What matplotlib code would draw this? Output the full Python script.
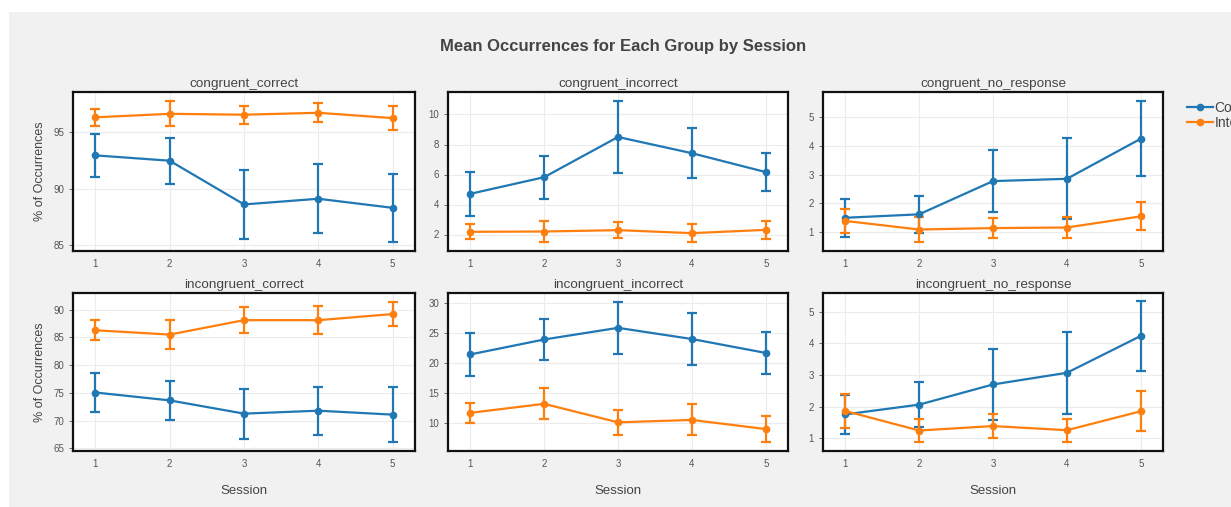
import matplotlib
matplotlib.use("Agg")
import matplotlib.pyplot as plt
from matplotlib.patches import Rectangle

plt.rcParams["font.family"] = ["Liberation Sans", "DejaVu Sans"]

sessions = [1, 2, 3, 4, 5]
groups = ["Control", "Intervention"]
colors = ["#1f77b4", "#ff7f0e"]
measures = [
    "congruent_correct", "congruent_incorrect", "congruent_no_response",
    "incongruent_correct", "incongruent_incorrect", "incongruent_no_response",
]

# group means per session, one list per measure
control_mean = {
    "congruent_correct": [92.92, 92.45, 88.6, 89.1, 88.3],
    "congruent_incorrect": [4.71, 5.82, 8.5, 7.42, 6.16],
    "congruent_no_response": [1.49, 1.61, 2.77, 2.85, 4.25],
    "incongruent_correct": [75.05, 73.63, 71.24, 71.77, 71.06],
    "incongruent_incorrect": [21.37, 23.86, 25.8, 23.94, 21.62],
    "incongruent_no_response": [1.75, 2.06, 2.70, 3.07, 4.24],
}
control_err = {
    "congruent_correct": [1.87, 2.03, 3.0, 3.05, 2.99],
    "congruent_incorrect": [1.47, 1.43, 2.37, 1.68, 1.28],
    "congruent_no_response": [0.67, 0.65, 1.08, 1.42, 1.30],
    "incongruent_correct": [3.45, 3.48, 4.5, 4.3, 4.9],
    "incongruent_incorrect": [3.64, 3.36, 4.36, 4.39, 3.53],
    "incongruent_no_response": [0.63, 0.72, 1.12, 1.30, 1.10],
}
intervention_mean = {
    "congruent_correct": [96.27, 96.58, 96.5, 96.67, 96.2],
    "congruent_incorrect": [2.18, 2.2, 2.29, 2.09, 2.31],
    "congruent_no_response": [1.38, 1.08, 1.13, 1.15, 1.54],
    "incongruent_correct": [86.28, 85.5, 88.1, 88.1, 89.2],
    "incongruent_incorrect": [11.65, 13.15, 10.07, 10.47, 8.95],
    "incongruent_no_response": [1.86, 1.24, 1.38, 1.25, 1.85],
}
intervention_err = {
    "congruent_correct": [0.75, 1.1, 0.8, 0.85, 1.05],
    "congruent_incorrect": [0.49, 0.69, 0.52, 0.59, 0.59],
    "congruent_no_response": [0.43, 0.45, 0.35, 0.38, 0.49],
    "incongruent_correct": [1.8, 2.63, 2.3, 2.5, 2.2],
    "incongruent_incorrect": [1.7, 2.6, 2.08, 2.58, 2.17],
    "incongruent_no_response": [0.53, 0.35, 0.37, 0.37, 0.63],
}
y_limits = {
    "congruent_correct": (84.5, 98.5),
    "congruent_incorrect": (0.9, 11.5),
    "congruent_no_response": (0.33, 5.88),
    "incongruent_correct": (64.5, 93.0),
    "incongruent_incorrect": (5.3, 31.6),
    "incongruent_no_response": (0.59, 5.6),
}
y_ticks = {
    "congruent_correct": [85, 90, 95],
    "congruent_incorrect": [2, 4, 6, 8, 10],
    "congruent_no_response": [1, 2, 3, 4, 5],
    "incongruent_correct": [65, 70, 75, 80, 85, 90],
    "incongruent_incorrect": [10, 15, 20, 25, 30],
    "incongruent_no_response": [1, 2, 3, 4, 5],
}

W, H = 1231, 507
fig = plt.figure(figsize=(W / 100, H / 100), dpi=100, facecolor="white")
fig.patches.append(Rectangle((9 / W, 0), 1, 1 - 12 / H, transform=fig.transFigure,
                             facecolor="#f1f1f1", edgecolor="none", zorder=-10))

col_x = [(73, 415), (448, 788), (823, 1163)]
row_y = [(92, 251), (293, 451)]

text_color = "#444444"
handles = []
for i, name in enumerate(measures):
    r, c = divmod(i, 3)
    x0, x1 = col_x[c]
    y0, y1 = row_y[r]
    ax = fig.add_axes([x0 / W, 1 - y1 / H, (x1 - x0) / W, (y1 - y0) / H])
    ax.set_facecolor("white")
    for mean, err, color in [(control_mean, control_err, colors[0]),
                             (intervention_mean, intervention_err, colors[1])]:
        cont = ax.errorbar(sessions, mean[name], yerr=err[name], color=color, lw=1.6,
                           marker="o", markersize=4.5, capsize=3.5, capthick=1.6, elinewidth=1.6)
        if i == 0:
            handles.append(cont[0])
    ax.set_xlim(0.7, 5.3)
    ax.set_ylim(*y_limits[name])
    ax.set_xticks(sessions)
    ax.set_yticks(y_ticks[name])
    ax.grid(True, color="#ececec", lw=0.8)
    ax.set_axisbelow(True)
    for s in ax.spines.values():
        s.set_linewidth(1.6)
        s.set_color("#111111")
    ax.tick_params(axis="both", labelsize=7, colors="#555555", length=3, width=0.6)
    ax.tick_params(axis="x", length=0, pad=6)
    ax.set_title(name, fontsize=9.7, color=text_color, pad=3.5)
    if c == 0:
        ax.set_ylabel("% of Occurrences", fontsize=9, color=text_color, labelpad=5)
    if r == 1:
        ax.set_xlabel("Session", fontsize=9.5, color=text_color, labelpad=11)

fig.text(623 / W, 1 - 47 / H, "Mean Occurrences for Each Group by Session",
         ha="center", va="center", fontsize=12, fontweight="bold", color=text_color)

# legend sits at the right edge of the canvas, so its labels run off the side
fig.legend(handles, groups, loc="upper left", bbox_to_anchor=(1181 / W, 1 - 95 / H),
           frameon=False, fontsize=10, handlelength=1.9, handletextpad=0.1,
           labelspacing=0.1, borderaxespad=0, labelcolor=text_color)

fig.savefig("out.png", dpi=100, facecolor=fig.get_facecolor())
